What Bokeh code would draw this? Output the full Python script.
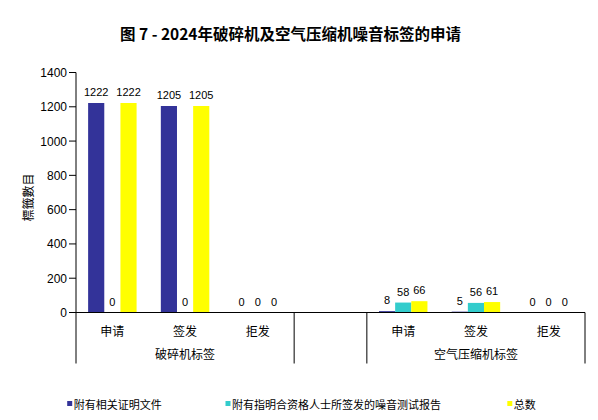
import math
from bokeh.plotting import figure
from bokeh.models import Range1d, ColumnDataSource
from bokeh.core.properties import value
from bokeh.embed import file_html
from bokeh.resources import INLINE

title_text = "图 7 - 2024年破碎机及空气压缩机噪音标签的申请"
y_title = "標籤數目"
groups = ["破碎机标签", "空气压缩机标签"]
statuses = ["申请", "签发", "拒发"]
series_names = ["附有相关证明文件", "附有指明合资格人士所签发的噪音测试报告", "总数"]
doc_values = [1222, 1205, 0, 8, 5, 0]
report_values = [0, 0, 0, 58, 56, 0]
total_values = [1222, 1205, 0, 66, 61, 0]
y_ticks = [0, 200, 400, 600, 800, 1000, 1200, 1400]
colors = ["#333399", "#33CCCC", "#FFFF00"]

CJK = "Noto Sans CJK SC"
LAT = "Liberation Sans"

n_cats = len(groups) * (len(statuses) + 1) - 1  # 7 slots incl. gap

# layout (pixels) -- the frame covers the whole canvas
W, H = 598, 420
AXIS_X = 75.5          # page x of the value axis
ZERO_Y = 312           # page y of value 0
PX_PER_CAT = 509 / n_cats
PX_PER_UNIT = 240 / (y_ticks[-1] - y_ticks[0])


def px2x(px):          # px: horizontal pixels from the value axis
    return px / PX_PER_CAT


def px2y(px):          # px: vertical pixels above the zero line
    return px / PX_PER_UNIT


x_start = px2x(-AXIS_X)
x_end = px2x(W - AXIS_X)
y_end = px2y(ZERO_Y)
y_start = px2y(ZERO_Y - H)
axis_depth = px2y(-51)
legend_y = px2y(-91)

p = figure(width=W, height=H, output_backend="svg", toolbar_location=None,
           x_range=Range1d(x_start, x_end), y_range=Range1d(y_start, y_end),
           min_border=0, x_axis_location=None, y_axis_location=None)
p.outline_line_color = None
p.grid.visible = False

# value axis: ticks and labels
p.segment(x0=[0] * len(y_ticks), y0=y_ticks, x1=[px2x(-7)] * len(y_ticks), y1=y_ticks,
          line_color="black", line_width=1)
p.text(x=[0] * len(y_ticks), y=y_ticks, text=[str(v) for v in y_ticks], x_offset=-9,
       text_align="right", text_baseline="middle",
       text_font=value(LAT), text_font_size="12px", text_color="black")
p.text(x=[px2x(27 - AXIS_X)], y=[px2y(ZERO_Y - 197)], text=[y_title], angle=math.pi / 2,
       text_align="center", text_baseline="middle",
       text_font=value("Noto Sans CJK TC"), text_font_size="12px", text_color="black")

bw = 1 / 4.5
offsets = [-bw, 0, bw]
series = [doc_values, report_values, total_values]

centers = []
for g in range(len(groups)):
    for s in range(len(statuses)):
        centers.append(g * (len(statuses) + 1) + s + 0.5)

for k, vals in enumerate(series):
    xs = [c + offsets[k] for c in centers]
    src = ColumnDataSource(dict(x=xs, top=vals, lab=[str(v) for v in vals]))
    p.vbar(x="x", top="top", bottom=0, width=bw, source=src,
           fill_color=colors[k], line_color=None)
    p.text(x="x", y="top", text="lab", source=src, y_offset=-11,
           text_align="center", text_baseline="middle",
           text_font=value(LAT), text_font_size="11px", text_color="black")

# axis lines and dividers
p.segment(x0=[0], y0=[axis_depth], x1=[0], y1=[y_ticks[-1]], line_color="black", line_width=1)
p.segment(x0=[0], y0=[0], x1=[n_cats], y1=[0], line_color="black", line_width=1)
div_x = [len(statuses), len(statuses) + 1, n_cats]
p.segment(x0=div_x, y0=[0] * 3, x1=div_x, y1=[axis_depth] * 3, line_color="black", line_width=1)

# category labels
p.text(x=centers, y=[0] * len(centers), text=statuses * len(groups), y_offset=18,
       text_align="center", text_baseline="middle",
       text_font=value(CJK), text_font_size="12px", text_color="black")
gcent = [g * (len(statuses) + 1) + len(statuses) / 2 for g in range(len(groups))]
p.text(x=gcent, y=[0] * len(groups), text=groups, y_offset=41,
       text_align="center", text_baseline="middle",
       text_font=value(CJK), text_font_size="12px", text_color="black")

# title
p.text(x=[px2x(290 - AXIS_X)], y=[px2y(ZERO_Y - 32)], text=[title_text],
       text_align="center", text_baseline="middle",
       text_font=value(CJK), text_font_size="15.5px", text_font_style="bold",
       text_color="black")

# legend (drawn manually)
leg_px = [-6.3, 152, 433.8]   # marker centres, px from the value axis
leg_x = [px2x(v) for v in leg_px]
p.rect(x=leg_x, y=[legend_y] * 3, width=5, height=5, width_units="screen",
       height_units="screen", fill_color=colors, line_color=None)
p.text(x=leg_x, y=[legend_y] * 3, text=series_names, x_offset=4,
       text_align="left", text_baseline="middle",
       text_font=value(CJK), text_font_size="11px", text_color="black")

open("out.html", "w").write(file_html(p, INLINE))
